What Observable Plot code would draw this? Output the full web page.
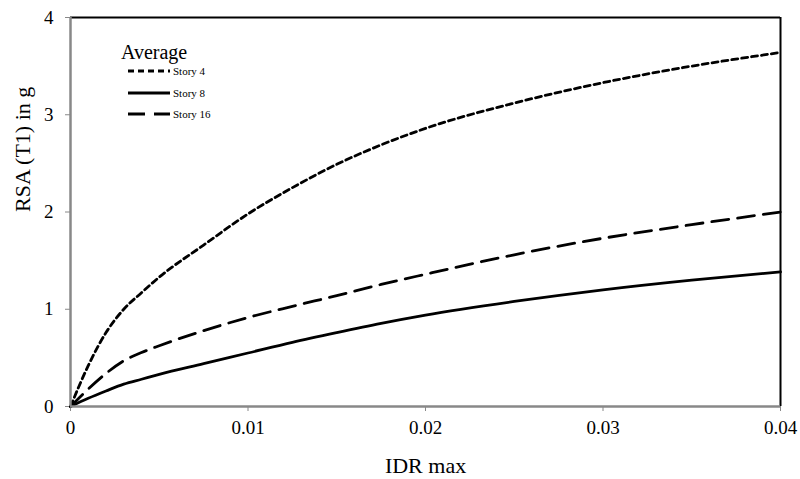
<!DOCTYPE html>
<html>
<head>
<meta charset="utf-8">
<script src="https://cdn.jsdelivr.net/npm/d3@7"></script>
<script src="https://cdn.jsdelivr.net/npm/@observablehq/plot@0.6"></script>
<style>
  html, body { margin: 0; padding: 0; background: #fff; }
  #wrap { position: relative; width: 800px; height: 479px; font-family: "Liberation Serif", "Times New Roman", serif; }
  #wrap svg, #wrap svg text { font-family: "Liberation Serif", "Times New Roman", serif !important; }
  #legend { position: absolute; left: 0; top: 0; pointer-events: none; }
</style>
</head>
<body>
<div id="wrap"></div>
<script>
// IDR max values (x)
const idr = [0, 0.001, 0.002, 0.003, 0.004, 0.005, 0.0075, 0.01, 0.0125, 0.015, 0.0175, 0.02, 0.025, 0.03, 0.035, 0.04];
// RSA(T1) in g, average per story
const story4  = [0, 0.42, 0.76, 1.00, 1.17, 1.33, 1.66, 1.98, 2.25, 2.49, 2.69, 2.86, 3.12, 3.33, 3.50, 3.64];
const story8  = [0, 0.085, 0.16, 0.23, 0.28, 0.33, 0.44, 0.55, 0.66, 0.76, 0.855, 0.94, 1.08, 1.20, 1.30, 1.385];
const story16 = [0, 0.18, 0.34, 0.47, 0.555, 0.625, 0.78, 0.915, 1.03, 1.14, 1.255, 1.36, 1.56, 1.73, 1.87, 2.00];
const seriesNames = ["Story 4", "Story 8", "Story 16"];
const xTicks = [0, 0.01, 0.02, 0.03, 0.04];
const yTicks = [0, 1, 2, 3, 4];

const seriesValues = [story4, story8, story16];
const dashes = { "Story 4": "6,4", "Story 8": null, "Story 16": "17,9" };
const serif = "Liberation Serif, Times New Roman, serif";

const rows = (vals, name) => idr.map((x, i) => ({ x, y: vals[i], series: name }));

const lineMarks = seriesNames.map((name, k) =>
  Plot.line(rows(seriesValues[k], name), {
    x: "x", y: "y", stroke: "black", strokeWidth: 2.8,
    strokeDasharray: dashes[name] || undefined, curve: "monotone-x"
  })
);

const chart = Plot.plot({
  width: 800,
  height: 479,
  marginLeft: 70,
  marginRight: 20,
  marginTop: 17,
  marginBottom: 73,
  style: { fontFamily: serif, fontSize: "19px", background: "white", color: "black" },
  x: { domain: [0, 0.04] },
  y: { domain: [0, 4] },
  marks: [
    Plot.axisX({ ticks: xTicks, tickFormat: d => String(d), tickSize: 5, tickPadding: 9, stroke: "#888", fill: "black", label: null, fontSize: 19, fontFamily: serif }),
    Plot.axisY({ ticks: yTicks, tickFormat: d => String(d), tickSize: 5, tickPadding: 12, stroke: "#888", fill: "black", label: null, fontSize: 19, fontFamily: serif }),
    ...lineMarks,
    Plot.ruleY([4], { stroke: "black", strokeWidth: 2 }),
    Plot.ruleX([0.04], { stroke: "black", strokeWidth: 2 }),
    Plot.ruleX([0], { stroke: "#888", strokeWidth: 2.5 }),
    Plot.ruleY([0], { stroke: "#888", strokeWidth: 2.5 }),
    Plot.text(["IDR max"], { frameAnchor: "bottom", dy: 66, fontSize: 22, fill: "black", fontFamily: serif }),
    Plot.text(["RSA (T1) in g"], { frameAnchor: "left", rotate: -90, dx: -48, fontSize: 22, fill: "black", fontFamily: serif })
  ]
});

const wrap = document.getElementById("wrap");
wrap.appendChild(chart);

// Legend overlay
const ns = "http://www.w3.org/2000/svg";
const leg = document.createElementNS(ns, "svg");
leg.setAttribute("id", "legend");
leg.setAttribute("width", 260);
leg.setAttribute("height", 130);
const title = document.createElementNS(ns, "text");
title.setAttribute("x", 121);
title.setAttribute("y", 59);
title.setAttribute("font-size", 20);
title.setAttribute("font-family", serif);
title.textContent = "Average";
leg.appendChild(title);
const legY = [71, 93, 114];
seriesNames.forEach((name, k) => {
  const l = document.createElementNS(ns, "line");
  l.setAttribute("x1", 128); l.setAttribute("x2", 170);
  l.setAttribute("y1", legY[k]); l.setAttribute("y2", legY[k]);
  l.setAttribute("stroke", "black"); l.setAttribute("stroke-width", 2.8);
  if (dashes[name]) l.setAttribute("stroke-dasharray", dashes[name]);
  leg.appendChild(l);
  const t = document.createElementNS(ns, "text");
  t.setAttribute("x", 173); t.setAttribute("y", legY[k] + 4);
  t.setAttribute("font-size", 11);
  t.setAttribute("font-family", serif);
  t.textContent = name;
  leg.appendChild(t);
});
wrap.appendChild(leg);
</script>
</body>
</html>
